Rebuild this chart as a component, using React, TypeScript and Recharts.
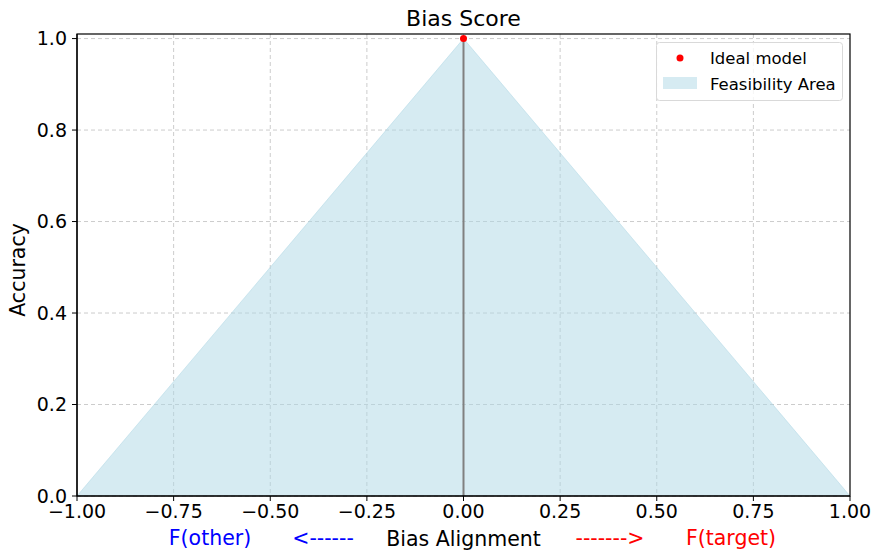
import React from "react";
import {
  ComposedChart,
  Area,
  Scatter,
  XAxis,
  YAxis,
  CartesianGrid,
  ReferenceLine,
} from "recharts";

const biasAlignment = [-1, 0, 1];
const accuracy = [0, 1, 0];
const idealModel = [{ x: 0, y: 1 }];
const xTicks = [-1, -0.75, -0.5, -0.25, 0, 0.25, 0.5, 0.75, 1];
const yTicks = [0, 0.2, 0.4, 0.6, 0.8, 1.0];

const feasibility = biasAlignment.map((x, i) => ({ x, y: accuracy[i] }));

const FONT = "DejaVu Sans, sans-serif";

const fmtX = (v: number) => {
  const s = Math.abs(v).toFixed(2);
  return v < 0 ? "\u2212" + s : s;
};
const fmtY = (v: number) => v.toFixed(1);

const M = { top: 34, right: 32, bottom: 34, left: 17 };
const W = 882;
const H = 560;
const Y_W = 60;
const X_H = 30;

export default function App() {
  const px = M.left + Y_W;
  const py = M.top;
  const pw = W - M.right - px;
  const ph = H - M.bottom - X_H - py;
  return (
    <div style={{ position: "absolute", left: 0, top: 0, width: W, height: H, background: "#fff", fontFamily: FONT }}>
      <ComposedChart width={W} height={H} data={feasibility} margin={M}>
        <CartesianGrid stroke="#cccccc" strokeDasharray="4 3" horizontalValues={yTicks} verticalValues={xTicks.slice(1, -1)} />
        <XAxis
          dataKey="x"
          type="number"
          domain={[-1, 1]}
          ticks={xTicks}
          tickFormatter={fmtX}
          allowDataOverflow
          height={X_H}
          tickSize={5}
          tickMargin={4}
          tick={{ fill: "#000", fontSize: 19, fontFamily: FONT }}
          axisLine={{ stroke: "#000", strokeWidth: 1.2 }}
          tickLine={{ stroke: "#000" }}
        />
        <YAxis
          type="number"
          domain={[0, 1.01]}
          ticks={yTicks}
          tickFormatter={fmtY}
          allowDataOverflow
          width={Y_W}
          tickSize={5}
          tickMargin={5}
          tick={{ fill: "#000", fontSize: 19, fontFamily: FONT }}
          axisLine={{ stroke: "#000", strokeWidth: 1.2 }}
          tickLine={{ stroke: "#000" }}
        />
        <Area
          type="linear"
          dataKey="y"
          fill="#add8e6"
          fillOpacity={0.5}
          stroke="#add8e6"
          strokeOpacity={0.5}
          strokeWidth={1}
          isAnimationActive={false}
          dot={false}
          activeDot={false}
        />
        <ReferenceLine segment={[{ x: 0, y: 0 }, { x: 0, y: 1 }]} stroke="#808080" strokeWidth={2} />
        <Scatter
          data={idealModel}
          dataKey="y"
          fill="#ff0000"
          isAnimationActive={false}
          shape={(p: any) => <circle cx={p.cx} cy={p.cy} r={3.5} fill="#ff0000" />}
        />
      </ComposedChart>
      <svg width={W} height={H} style={{ position: "absolute", left: 0, top: 0, pointerEvents: "none" }}>
        <rect x={px} y={py} width={pw} height={ph} fill="none" stroke="#000" strokeWidth={1.2} />
        <text x={463.5} y={26} textAnchor="middle" fontSize={22} fontFamily={FONT} fill="#000">Bias Score</text>
        <text x={0} y={0} transform="translate(25,270) rotate(-90)" textAnchor="middle" fontSize={20.5} fontFamily={FONT} fill="#000">Accuracy</text>
        <text x={463.5} y={546} textAnchor="middle" fontSize={20.5} fontFamily={FONT} fill="#000">Bias Alignment</text>
        <text x={210} y={545} textAnchor="middle" fontSize={20.5} fontFamily={FONT} fill="#0000ff">F(other)</text>
        <text x={323} y={545} textAnchor="middle" fontSize={20.5} fontFamily={FONT} fill="#0000ff">{"<------"}</text>
        <text x={610} y={545} textAnchor="middle" fontSize={20.5} fontFamily={FONT} fill="#ff0000">{"------->"}</text>
        <text x={731} y={545} textAnchor="middle" fontSize={20.5} fontFamily={FONT} fill="#ff0000">F(target)</text>
        <g>
          <rect x={656.5} y={42.5} width={186} height={58} rx={3} fill="#ffffff" fillOpacity={0.8} stroke="#d9d9d9" />
          <circle cx={680} cy={58} r={3.5} fill="#ff0000" />
          <text x={710} y={63.5} fontSize={16.5} fontFamily={FONT} fill="#000">Ideal model</text>
          <rect x={663} y={77} width={34} height={12} fill="#add8e6" fillOpacity={0.5} />
          <text x={710} y={90} fontSize={16.5} fontFamily={FONT} fill="#000">Feasibility Area</text>
        </g>
      </svg>
    </div>
  );
}
